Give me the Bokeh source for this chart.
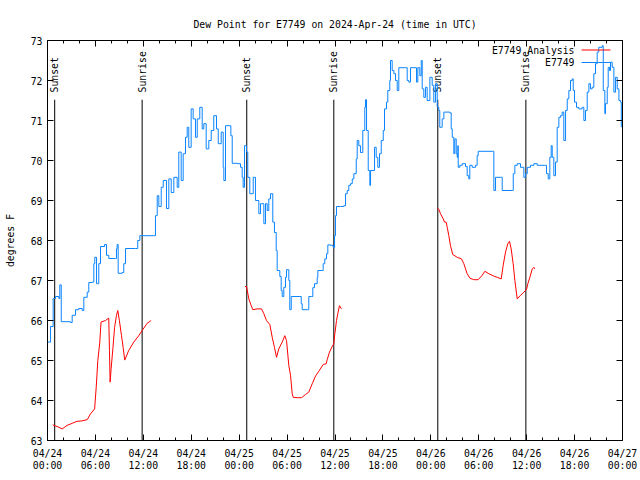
import math
from bokeh.plotting import figure
from bokeh.models import (Range1d, FixedTicker, LinearAxis, Label, BoxAnnotation,
                          ColumnDataSource)
from bokeh.core.properties import value
from bokeh.embed import file_html
from bokeh.resources import INLINE

# ---- data (hours since 2024-04-24 00:00 UTC) ----
station_hours = [
    0.0, 0.38, 0.71, 1.0, 1.42, 1.54, 1.72, 2.88, 3.09, 3.51, 3.92, 4.35, 4.55, 4.97, 5.17, 5.6,
    5.8, 5.92, 6.14, 6.42, 6.64, 7.14, 7.39, 7.68, 8.52, 8.64, 8.72, 8.85, 9.35, 9.55, 9.77, 11.02,
    11.3, 11.56, 13.31, 13.52, 13.74, 13.94, 14.24, 14.49, 14.9, 15.19, 15.49, 15.82, 16.24, 16.44,
    16.74, 16.99, 17.28, 17.49, 17.69, 17.99, 18.24, 18.53, 18.75, 19.07, 19.37, 19.57, 19.87, 20.2,
    20.5, 20.82, 21.16, 21.38, 21.75, 22.0, 22.08, 22.29, 22.83, 22.96, 23.13, 23.75, 24.17, 24.38,
    24.5, 24.67, 24.92, 25.08, 25.33, 25.76, 26.04, 26.46, 26.67, 27.09, 27.3, 27.51, 27.71, 27.92,
    28.21, 28.42, 28.64, 28.76, 29.09, 29.26, 29.39, 29.59, 29.8, 29.93, 30.14, 30.22, 30.34, 30.52,
    31.6, 31.77, 31.89, 32.6, 32.72, 33.06, 33.22, 33.43, 33.77, 33.85, 34.4, 34.52, 34.72, 34.94,
    35.1, 35.44, 35.77, 35.94, 36.06, 36.19, 36.69, 37.1, 37.32, 37.53, 37.73, 37.94, 38.16, 38.36,
    38.66, 38.78, 38.98, 39.2, 39.48, 39.73, 39.82, 39.95, 40.16, 40.36, 40.45, 40.78, 40.95, 41.16,
    41.36, 41.57, 41.79, 42.04, 42.2, 42.45, 42.61, 42.86, 42.95, 43.16, 43.37, 43.58, 43.79, 43.99,
    44.83, 45.04, 45.24, 45.45, 45.87, 46.21, 46.37, 46.62, 46.8, 46.92, 47.12, 47.33, 47.54, 47.88,
    48.17, 48.37, 48.59, 48.8, 49.0, 49.12, 49.3, 49.42, 49.63, 50.38, 50.55, 50.68, 50.88, 51.0,
    51.18, 51.3, 51.38, 51.43, 51.63, 51.93, 52.34, 52.55, 52.75, 52.88, 53.18, 53.6, 53.8, 53.93,
    55.69, 55.89, 56.1, 56.73, 56.94, 58.19, 58.32, 58.52, 58.82, 59.23, 59.65, 59.86, 60.07, 60.48,
    60.9, 61.32, 62.23, 62.48, 62.7, 62.9, 63.07, 63.2, 63.4, 63.61, 63.82, 64.03, 64.24, 64.45,
    64.65, 64.87, 65.08, 65.28, 65.49, 65.7, 65.83, 65.99, 66.24, 66.53, 66.95, 67.16, 67.37, 67.58,
    67.79, 67.99, 68.2, 68.41, 68.62, 68.83, 69.03, 69.46, 69.59, 69.79, 69.87, 70.09, 70.21, 70.37,
    70.5, 70.71, 70.92, 71.13, 71.34, 71.55, 71.76, 71.85,
]
station_dewpoint = [
    65.46, 65.85, 66.55, 66.6, 66.55, 66.89, 65.97, 65.95, 66.13, 66.27, 66.3, 66.25, 66.58, 66.71, 66.95, 66.96,
    67.42, 67.58, 66.92, 67.42, 67.85, 67.9, 67.63, 67.55, 67.55, 67.79, 67.9, 67.18, 67.2, 67.42, 67.8, 67.8,
    68.0, 68.12, 68.12, 68.62, 69.12, 68.85, 69.33, 69.5, 68.8, 69.54, 69.2, 69.58, 69.33, 70.21,
    69.5, 70.17, 70.58, 70.83, 70.33, 71.29, 71.04, 70.58, 71.04, 71.33, 70.79, 70.92, 70.29, 70.5,
    70.75, 71.12, 70.79, 70.42, 70.71, 69.83, 69.5, 70.87, 70.87, 70.62, 69.93, 69.92, 69.83, 69.58,
    69.33, 70.37, 70.21, 69.58, 69.17, 69.58, 69.0, 68.67, 68.92, 68.42, 68.92, 68.75, 69.04, 69.17,
    68.46, 68.2, 67.75, 67.25, 67.1, 66.75, 66.6, 66.83, 67.08, 67.27, 67.27, 67.0, 66.27, 66.6,
    66.6, 66.42, 66.27, 66.27, 66.6, 66.6, 66.82, 66.92, 67.07, 67.25, 67.25, 67.42, 67.54, 67.67,
    67.89, 67.88, 67.83, 68.12, 68.62, 68.85, 68.85, 68.87, 69.17, 69.25, 69.38, 69.42, 69.54, 69.67,
    70.04, 70.5, 70.37, 70.2, 70.75, 71.33, 71.52, 70.75, 69.75, 69.38, 69.75, 69.75, 70.33, 70.08,
    69.83, 70.17, 70.5, 70.75, 71.29, 71.46, 71.75, 72.0, 72.5, 72.25, 72.17, 72.0, 71.75, 72.32,
    72.32, 72.0, 71.96, 72.32, 72.32, 71.96, 72.32, 72.12, 72.5, 71.79, 71.58, 71.83, 71.5, 72.08,
    71.88, 71.46, 71.92, 71.33, 71.25, 70.83, 70.83, 71.04, 71.21, 71.19, 70.79, 70.58, 70.17, 70.54,
    70.17, 70.08, 70.37, 69.83, 69.88, 69.92, 69.85, 69.62, 69.54, 69.88, 69.83, 69.88, 70.12, 70.23,
    70.23, 69.25, 69.58, 69.58, 69.25, 69.25, 69.67, 69.88, 69.92, 69.83, 69.58, 69.67, 69.83, 69.88,
    69.92, 69.88, 69.88, 69.67, 69.54, 70.08, 70.37, 70.08, 69.62, 69.96, 70.83, 71.08, 71.12, 71.21,
    70.5, 71.25, 71.54, 71.75, 72.0, 72.04, 71.75, 71.46, 71.33, 71.29, 71.33, 71.0, 71.25, 71.71,
    71.92, 71.79, 71.83, 72.17, 72.42, 72.71, 72.83, 72.87, 71.75, 71.17, 71.42, 71.83, 72.33, 72.25,
    72.46, 72.33, 71.71, 72.08, 71.79, 71.5, 71.46, 70.83,
]

nan = float("nan")
analysis_hours = [
    0.66, 1.2, 1.84, 2.47, 3.1, 3.7, 4.3, 4.97, 5.4, 5.9, 6.1, 6.3, 6.55, 6.7, 7.26, 7.67, 7.76,
    7.84, 7.97, 8.2, 8.4, 8.64, 8.8, 9.0, 9.26, 9.47, 9.67, 10.17, 10.8, 11.43, 11.85, 12.48, 12.98,
    18.0,
    24.71, 24.92, 25.21, 25.51, 25.71, 26.26, 26.8, 27.09, 27.42, 27.84, 28.14, 28.42, 28.68, 28.96,
    29.39, 29.71, 29.93, 30.22, 30.43, 30.64, 30.77, 31.27, 31.81, 32.31, 32.72, 33.15, 33.56, 33.97,
    34.52, 34.9, 35.02, 35.31, 35.65, 35.85, 35.98, 36.19, 36.35, 36.56, 36.81,
    42.0,
    48.8, 49.0, 49.21, 49.55, 49.71, 49.92, 50.05, 50.25, 50.46, 50.75, 51.3, 51.84, 52.13, 52.55,
    52.88, 53.38, 53.93, 54.43, 54.76, 55.26, 55.89, 56.31, 56.81, 57.06, 57.35, 57.64, 57.85, 58.06,
    58.31, 58.52, 58.82, 59.23, 59.65, 59.98, 60.15, 60.4, 60.7, 60.9, 61.02,
]
analysis_dewpoint = [
    63.39, 63.35, 63.29, 63.38, 63.43, 63.48, 63.49, 63.52, 63.67, 63.79, 64.33, 65.0, 65.46, 65.96, 66.0, 66.06, 65.25,
    64.46, 64.8, 65.33, 65.83, 66.13, 66.25, 66.0, 65.63, 65.33, 65.01, 65.25, 65.46, 65.62, 65.75, 65.93, 66.0,
    nan,
    66.85, 66.85, 66.54, 66.37, 66.27, 66.29, 66.29, 66.17, 66.0, 65.9, 65.58, 65.33, 65.08, 65.29,
    65.46, 65.62, 65.5, 64.87, 64.63, 64.17, 64.08, 64.07, 64.07, 64.15, 64.21, 64.42, 64.61, 64.73,
    64.9, 64.92, 65.02, 65.21, 65.35, 65.42, 65.67, 66.0, 66.17, 66.37, 66.29,
    nan,
    68.81, 68.78, 68.67, 68.54, 68.46, 68.46, 68.33, 68.12, 67.87, 67.65, 67.58, 67.54, 67.42, 67.17,
    67.06, 67.02, 67.02, 67.13, 67.23, 67.17, 67.11, 67.08, 67.04, 67.38, 67.71, 67.92, 67.98, 67.79,
    67.42, 67.0, 66.54, 66.63, 66.71, 66.77, 66.92, 67.08, 67.29, 67.33, 67.29,
]

sun_event_hours = [0.9, 11.85, 24.95, 35.85, 48.87, 59.9]
sun_event_names = ["Sunset", "Sunrise", "Sunset", "Sunrise", "Sunset", "Sunrise"]

tick_hours = [0, 6, 12, 18, 24, 30, 36, 42, 48, 54, 60, 66, 72]
tick_dates = ["04/24", "04/24", "04/24", "04/24", "04/25", "04/25", "04/25", "04/25",
              "04/26", "04/26", "04/26", "04/26", "04/27"]
tick_times = ["00:00", "06:00", "12:00", "18:00", "00:00", "06:00", "12:00", "18:00",
              "00:00", "06:00", "12:00", "18:00", "00:00"]
minor_hours = [h for h in range(0, 73, 2)]
y_ticks = [63, 64, 65, 66, 67, 68, 69, 70, 71, 72, 73]

series_names = ["E7749 Analysis", "E7749"]

FONT = "DejaVu Sans Mono"
FS = "9.8px"
BLUE = "#0a84ff"
RED = "#ff0000"

p = figure(width=640, height=480, output_backend="svg", toolbar_location=None,
           x_range=Range1d(0, 72), y_range=Range1d(63, 73),
           min_border_left=47, min_border_right=18, min_border_top=40, min_border_bottom=40,
           title="Dew Point for E7749 on 2024-Apr-24 (time in UTC)")
p.title.align = "center"
p.title.text_font = FONT
p.title.text_font_size = FS
p.title.text_font_style = "normal"
p.title.text_color = "black"
p.title.standoff = 22
p.xgrid.grid_line_color = None
p.ygrid.grid_line_color = None
p.outline_line_color = "black"
p.outline_line_width = 1
p.background_fill_color = "white"

xt = FixedTicker(ticks=tick_hours, minor_ticks=minor_hours)
yt = FixedTicker(ticks=y_ticks, minor_ticks=[])

xa = p.xaxis[0]
xa.ticker = xt
xa.major_label_overrides = {h: d + "\n" + t for h, d, t in zip(tick_hours, tick_dates, tick_times)}
ya = p.yaxis[0]
ya.ticker = yt
ya.axis_label = "degrees F"
ya.axis_label_text_font = FONT
ya.axis_label_text_font_size = FS
ya.axis_label_text_font_style = "normal"
ya.axis_label_text_color = "black"
ya.axis_label_standoff = 12

for ax in (xa, ya):
    ax.major_label_text_font = FONT
    ax.major_label_text_font_size = FS
    ax.major_label_text_color = "black"
    ax.major_tick_in = 6
    ax.major_tick_out = 0
    ax.minor_tick_in = 3
    ax.minor_tick_out = 0
    ax.major_label_standoff = 5
    ax.axis_line_color = None
    ax.major_tick_line_color = "black"
    ax.minor_tick_line_color = "black"
xa.major_label_standoff = 7
xa.major_label_text_line_height = 1.15

top_axis = LinearAxis(ticker=xt, major_label_overrides={h: "" for h in tick_hours},
                      major_tick_in=6, major_tick_out=0,
                      minor_tick_in=3, minor_tick_out=0, axis_line_color=None, major_label_standoff=0,
                      major_label_text_font_size="1px")
right_axis = LinearAxis(ticker=yt, major_label_overrides={v: "" for v in y_ticks},
                        major_tick_in=6, major_tick_out=0,
                        minor_tick_in=0, minor_tick_out=0, axis_line_color=None, major_label_standoff=0,
                        major_label_text_font_size="1px")
p.add_layout(top_axis, "above")
p.add_layout(right_axis, "right")

# sunrise / sunset markers
ev = ColumnDataSource(dict(x=sun_event_hours, name=sun_event_names,
                           y0=[63] * len(sun_event_hours), y1=[71.52] * len(sun_event_hours),
                           ty=[71.7] * len(sun_event_hours)))
p.segment(x0="x", y0="y0", x1="x", y1="y1", source=ev, line_color="black", line_width=1)
p.text(x="x", y="ty", text="name", source=ev, angle=math.pi / 2, text_align="left",
       text_baseline="middle", text_font=value(FONT), text_font_size=FS, text_color="black")

r_blue = p.step(station_hours, station_dewpoint, mode="after", line_color=BLUE, line_width=1)
r_red = p.line(analysis_hours, analysis_dewpoint, line_color=RED, line_width=1)

# legend (text left of the sample line, as in the reference)
for i, (name, col) in enumerate(zip(series_names, [RED, BLUE])):
    yy = 390.5 - 12.5 * i
    p.add_layout(Label(x=527, y=yy, x_units="screen", y_units="screen", text=name,
                       text_align="right", text_baseline="middle", text_font=FONT,
                       text_font_size=FS, text_color="black"))
    p.add_layout(BoxAnnotation(left=534, right=563, bottom=yy - 0.5, top=yy + 0.5,
                               left_units="screen", right_units="screen",
                               bottom_units="screen", top_units="screen",
                               fill_color=col, fill_alpha=1, line_color=None))

open("out.html", "w").write(file_html(p, INLINE))
